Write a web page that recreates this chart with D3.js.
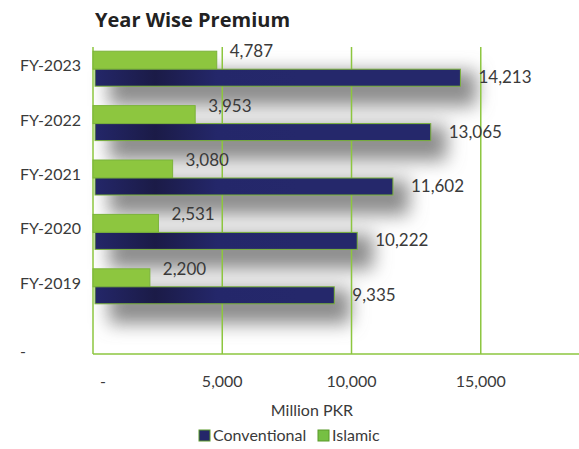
<!DOCTYPE html>
<html>
<head>
<meta charset="utf-8">
<script src="https://cdn.jsdelivr.net/npm/d3@7"></script>
<style>
  body { margin: 0; background: #fff; }
  text { font-family: Lato, 'Open Sans', sans-serif; fill: #3a3a3a; }
</style>
</head>
<body>
<div id="chart"></div>
<script>
var years = ['FY-2023', 'FY-2022', 'FY-2021', 'FY-2020', 'FY-2019']
var conventional = [14213, 13065, 11602, 10222, 9335]
var islamic = [4787, 3953, 3080, 2531, 2200]
var xTicks = [0, 5000, 10000, 15000]

var width = 579
var height = 449
var plotLeft = 93
var plotTop = 47
var plotBottom = 354

var svg = d3
  .select('#chart')
  .append('svg')
  .attr('width', width)
  .attr('height', height)

var defs = svg.append('defs')

var shadow = defs
  .append('filter')
  .attr('id', 'shadow')
  .attr('x', '-20%')
  .attr('y', '-60%')
  .attr('width', '160%')
  .attr('height', '320%')
shadow
  .append('feGaussianBlur')
  .attr('in', 'SourceAlpha')
  .attr('stdDeviation', 9)
shadow.append('feOffset').attr('dx', 16).attr('dy', 20).attr('result', 'off')
shadow
  .append('feFlood')
  .attr('flood-color', '#808080')
  .attr('flood-opacity', 0.9)
shadow.append('feComposite').attr('in2', 'off').attr('operator', 'in')

var grad = defs
  .append('linearGradient')
  .attr('id', 'navy')
  .attr('gradientUnits', 'userSpaceOnUse')
  .attr('x1', plotLeft)
  .attr('x2', 300)
  .attr('y1', 0)
  .attr('y2', 0)
grad.append('stop').attr('offset', '0%').attr('stop-color', '#24276a')
grad.append('stop').attr('offset', '30%').attr('stop-color', '#1b1b47')
grad.append('stop').attr('offset', '60%').attr('stop-color', '#24276a')
grad.append('stop').attr('offset', '100%').attr('stop-color', '#25286b')

var x = d3.scaleLinear().domain([0, 18800]).range([plotLeft, 579])

var y = d3.scaleBand().domain(years).range([42, 314])

var rows = years.map((d, i) => ({
  year: d,
  conventional: conventional[i],
  islamic: islamic[i]
}))

// title
svg
  .append('text')
  .text('Year Wise Premium')
  .attr('x', 95)
  .attr('y', 27)
  .attr('font-size', 20)
  .attr('font-weight', 700)
  .style('font-family', "'Open Sans', sans-serif")
  .style('fill', '#222')

// shadows behind bars
var shadows = svg.append('g').attr('filter', 'url(#shadow)')
shadows
  .selectAll('rect')
  .data(rows)
  .enter()
  .append('rect')
  .attr('x', x(0))
  .attr('y', d => y(d.year) + y.bandwidth() / 2 - 18)
  .attr('width', d => x(d.conventional) - x(0))
  .attr('height', 35)

// gridlines
svg
  .selectAll('.grid')
  .data(xTicks.slice(1))
  .enter()
  .append('line')
  .attr('x1', d => x(d))
  .attr('x2', d => x(d))
  .attr('y1', plotTop)
  .attr('y2', plotBottom)
  .attr('stroke', '#8dc63f')
  .attr('stroke-width', 1.5)

// axes lines
svg
  .append('line')
  .attr('x1', plotLeft)
  .attr('x2', plotLeft)
  .attr('y1', plotTop)
  .attr('y2', plotBottom)
  .attr('stroke', '#8dc63f')
  .attr('stroke-width', 1.5)
svg
  .append('line')
  .attr('x1', plotLeft)
  .attr('x2', 579)
  .attr('y1', plotBottom)
  .attr('y2', plotBottom)
  .attr('stroke', '#8dc63f')
  .attr('stroke-width', 1.5)

// islamic bars
svg
  .selectAll('.islamic')
  .data(rows)
  .enter()
  .append('rect')
  .attr('class', 'islamic')
  .attr('x', x(0))
  .attr('y', d => y(d.year) + y.bandwidth() / 2 - 18)
  .attr('width', d => x(d.islamic) - x(0))
  .attr('height', 18)
  .attr('fill', '#8dc63f')
  .attr('stroke', '#7bb33a')
  .attr('stroke-width', 1)

// conventional bars
svg
  .selectAll('.conventional')
  .data(rows)
  .enter()
  .append('rect')
  .attr('class', 'conventional')
  .attr('x', x(0) + 2)
  .attr('y', d => y(d.year) + y.bandwidth() / 2)
  .attr('width', d => x(d.conventional) - x(0) - 2)
  .attr('height', 17)
  .attr('fill', 'url(#navy)')
  .attr('stroke', '#7bb33a')
  .attr('stroke-width', 1)

// value labels
svg
  .selectAll('.islamic-label')
  .data(rows)
  .enter()
  .append('text')
  .text(d => d3.format(',')(d.islamic))
  .attr('x', d => x(d.islamic) + 13)
  .attr('y', d => y(d.year) + y.bandwidth() / 2 - 12)
  .attr('font-size', 17)

svg
  .selectAll('.conv-label')
  .data(rows)
  .enter()
  .append('text')
  .text(d => d3.format(',')(d.conventional))
  .attr('x', d => x(d.conventional) + 18)
  .attr('y', d => y(d.year) + y.bandwidth() / 2 + 14)
  .attr('font-size', 17)

// y labels
svg
  .selectAll('.y-label')
  .data(years)
  .enter()
  .append('text')
  .text(d => d)
  .attr('x', 81)
  .attr('y', d => y(d) + y.bandwidth() / 2 + 2)
  .attr('text-anchor', 'end')
  .attr('font-size', 16)

svg
  .append('text')
  .text('-')
  .attr('x', 20)
  .attr('y', plotBottom + 3)
  .attr('font-size', 16)

// x tick labels
svg
  .selectAll('.x-label')
  .data(xTicks)
  .enter()
  .append('text')
  .text(d => (d === 0 ? '-' : d3.format(',')(d)))
  .attr('x', d => (d === 0 ? x(d) + 10 : x(d)))
  .attr('y', 387)
  .attr('text-anchor', 'middle')
  .attr('font-size', 16)

svg
  .append('text')
  .text('Million PKR')
  .attr('x', 312)
  .attr('y', 416)
  .attr('text-anchor', 'middle')
  .attr('font-size', 16)

// legend
var legend = [
  { name: 'Conventional', fill: '#24276a', x: 199 },
  { name: 'Islamic', fill: '#76c043', x: 318 }
]
var lg = svg
  .selectAll('.legend')
  .data(legend)
  .enter()
  .append('g')
  .attr('transform', d => `translate(${d.x},430)`)
lg.append('rect')
  .attr('width', 11)
  .attr('height', 11)
  .attr('fill', d => d.fill)
  .attr('stroke', '#5a9a2a')
  .attr('stroke-width', 1)
lg.append('text')
  .text(d => d.name)
  .attr('x', 14)
  .attr('y', 11)
  .attr('font-size', 16)
</script>
</body>
</html>
